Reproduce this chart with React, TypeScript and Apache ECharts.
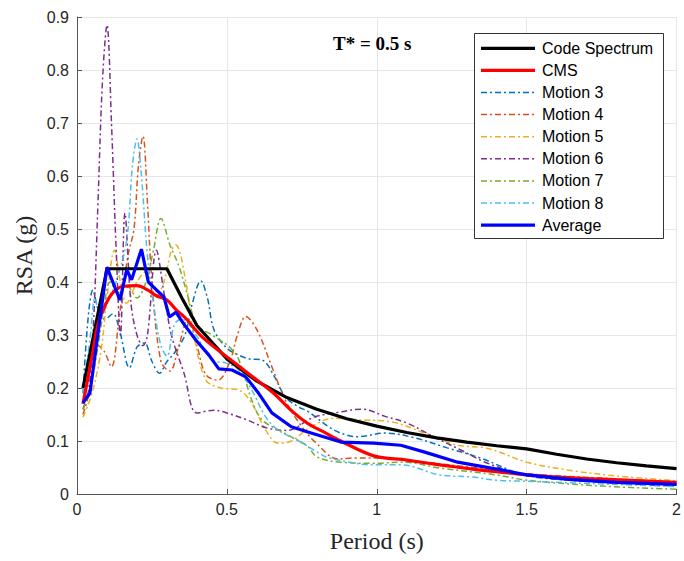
import React, { useEffect, useRef } from "react";
import * as echarts from "echarts";

type P = [number, number];

const seriesNames = ["Code Spectrum", "CMS", "Motion 3", "Motion 4", "Motion 5", "Motion 6", "Motion 7", "Motion 8", "Average"];
const xTicks = [0, 0.5, 1, 1.5, 2];
const yTicks = [0, 0.1, 0.2, 0.3, 0.4, 0.5, 0.6, 0.7, 0.8, 0.9];

const codeSpectrum: P[] = [[0.02,0.2],[0.1,0.425],[0.3,0.425],[0.35,0.37],[0.4,0.318],[0.5,0.255],[0.6,0.213],[0.7,0.182],[0.8,0.16],[0.9,0.142],[1.0,0.128],[1.1,0.116],[1.2,0.106],[1.3,0.098],[1.4,0.091],[1.5,0.085],[1.6,0.075],[1.7,0.066],[1.8,0.059],[1.9,0.053],[2.0,0.048]];
const cms: P[] = [[0.02,0.17],[0.05,0.26],[0.07,0.32],[0.093,0.355],[0.12,0.38],[0.155,0.392],[0.2,0.393],[0.235,0.385],[0.265,0.374],[0.3,0.366],[0.33,0.348],[0.36,0.333],[0.42,0.295],[0.52,0.25],[0.6,0.215],[0.656,0.19],[0.72,0.155],[0.77,0.133],[0.82,0.118],[0.88,0.1],[0.99,0.072],[1.1,0.064],[1.21,0.055],[1.32,0.047],[1.4,0.042],[1.5,0.036],[1.6,0.032],[1.75,0.028],[2.0,0.022]];
const motion3: P[] = [[0.02,0.19],[0.053,0.385],[0.075,0.34],[0.093,0.33],[0.12,0.34],[0.143,0.306],[0.175,0.238],[0.2,0.277],[0.225,0.285],[0.25,0.25],[0.275,0.228],[0.3,0.25],[0.325,0.266],[0.36,0.3],[0.385,0.36],[0.413,0.402],[0.435,0.37],[0.457,0.31],[0.5,0.275],[0.54,0.262],[0.573,0.255],[0.617,0.253],[0.66,0.22],[0.695,0.183],[0.74,0.164],[0.77,0.156],[0.86,0.12],[0.937,0.108],[1.026,0.115],[1.126,0.106],[1.235,0.087],[1.345,0.068],[1.5,0.035],[1.7,0.025],[2.0,0.018]];
const motion4: P[] = [[0.02,0.15],[0.045,0.2],[0.07,0.28],[0.09,0.27],[0.115,0.24],[0.14,0.33],[0.17,0.45],[0.19,0.5],[0.205,0.62],[0.22,0.675],[0.235,0.55],[0.25,0.4],[0.28,0.25],[0.31,0.232],[0.34,0.28],[0.37,0.33],[0.4,0.28],[0.43,0.225],[0.47,0.215],[0.51,0.25],[0.535,0.3],[0.563,0.335],[0.6,0.31],[0.65,0.24],[0.695,0.177],[0.75,0.127],[0.8,0.095],[0.87,0.066],[0.93,0.068],[1.0,0.068],[1.16,0.06],[1.32,0.05],[1.5,0.038],[1.75,0.03],[2.0,0.022]];
const motion5: P[] = [[0.02,0.145],[0.05,0.19],[0.08,0.27],[0.1,0.37],[0.125,0.46],[0.145,0.4],[0.165,0.36],[0.2,0.4],[0.23,0.42],[0.26,0.37],[0.29,0.4],[0.315,0.46],[0.33,0.47],[0.36,0.41],[0.39,0.3],[0.43,0.215],[0.48,0.2],[0.54,0.196],[0.583,0.171],[0.63,0.12],[0.67,0.096],[0.715,0.1],[0.78,0.127],[0.86,0.143],[0.94,0.14],[1.05,0.136],[1.16,0.115],[1.27,0.092],[1.35,0.088],[1.4,0.081],[1.5,0.06],[1.64,0.045],[1.8,0.034],[2.0,0.025]];
const motion6: P[] = [[0.02,0.16],[0.04,0.2],[0.055,0.32],[0.07,0.55],[0.085,0.78],[0.1,0.885],[0.115,0.7],[0.13,0.47],[0.145,0.3],[0.16,0.53],[0.18,0.36],[0.2,0.3],[0.22,0.28],[0.235,0.3],[0.265,0.46],[0.29,0.38],[0.315,0.3],[0.357,0.228],[0.4,0.153],[0.457,0.158],[0.5,0.153],[0.566,0.14],[0.632,0.125],[0.7,0.12],[0.79,0.145],[0.86,0.153],[0.95,0.16],[1.03,0.146],[1.1,0.134],[1.19,0.108],[1.28,0.083],[1.37,0.058],[1.5,0.035],[1.75,0.022],[2.0,0.015]];
const motion7: P[] = [[0.02,0.16],[0.045,0.2],[0.07,0.28],[0.09,0.35],[0.11,0.4],[0.14,0.38],[0.17,0.39],[0.2,0.37],[0.23,0.4],[0.255,0.46],[0.28,0.52],[0.31,0.47],[0.34,0.43],[0.364,0.385],[0.4,0.32],[0.45,0.3],[0.507,0.278],[0.54,0.253],[0.583,0.177],[0.617,0.14],[0.672,0.121],[0.74,0.1],[0.77,0.09],[0.8,0.07],[0.88,0.06],[0.99,0.058],[1.09,0.06],[1.21,0.049],[1.4,0.036],[1.5,0.026],[1.75,0.015],[2.0,0.009]];
const motion8: P[] = [[0.02,0.19],[0.045,0.3],[0.06,0.37],[0.08,0.33],[0.1,0.36],[0.13,0.4],[0.166,0.48],[0.185,0.62],[0.2,0.67],[0.215,0.6],[0.235,0.45],[0.26,0.34],[0.28,0.28],[0.3,0.26],[0.325,0.32],[0.35,0.33],[0.397,0.3],[0.45,0.253],[0.497,0.247],[0.54,0.234],[0.583,0.196],[0.63,0.145],[0.67,0.121],[0.74,0.1],[0.805,0.078],[0.84,0.068],[0.99,0.055],[1.08,0.055],[1.21,0.036],[1.32,0.032],[1.4,0.026],[1.5,0.024],[1.75,0.019],[2.0,0.014]];
const average: P[] = [[0.02,0.172],[0.043,0.19],[0.1,0.428],[0.143,0.366],[0.166,0.423],[0.182,0.404],[0.215,0.462],[0.238,0.4],[0.265,0.385],[0.29,0.372],[0.308,0.334],[0.33,0.343],[0.357,0.32],[0.397,0.29],[0.44,0.262],[0.473,0.236],[0.517,0.234],[0.563,0.221],[0.606,0.19],[0.65,0.153],[0.715,0.127],[0.77,0.117],[0.88,0.098],[0.99,0.096],[1.08,0.092],[1.16,0.079],[1.27,0.06],[1.4,0.047],[1.5,0.036],[1.65,0.027],[1.8,0.022],[2.0,0.018]];

const dataList = [codeSpectrum, cms, motion3, motion4, motion5, motion6, motion7, motion8, average];
const colors = ["#000000", "#FF0000", "#0072BD", "#D95319", "#EDB120", "#7E2F8E", "#77AC30", "#4DBEEE", "#0000FF"];

const sans = "Arial, 'Liberation Sans', Helvetica, sans-serif";
const serif = "'Times New Roman', 'Liberation Serif', serif";
const dashDot = [6, 3, 2, 3];

export default function App() {
  const ref = useRef<HTMLDivElement>(null);
  useEffect(() => {
    if (!ref.current) return;
    const chart = echarts.init(ref.current, null, { renderer: "svg" });
    const isThick = (i: number) => i === 0 || i === 1 || i === 8;
    const series = seriesNames.map((name, i) => ({
      name,
      type: "line",
      data: dataList[i],
      showSymbol: false,
      symbol: "none",
      smooth: i === 0 || i === 8 ? false : 0.35,
      z: isThick(i) ? 5 : 3,
      lineStyle: {
        color: colors[i],
        width: isThick(i) ? 3.2 : 1.5,
        type: isThick(i) ? "solid" : dashDot,
      },
      itemStyle: { color: colors[i] },
    }));

    // legend drawn as graphic elements
    const lx = 474.5, ly = 33.5, lw = 189, lh = 205;
    const legendEls: any[] = [
      {
        type: "rect",
        shape: { x: lx, y: ly, width: lw, height: lh },
        style: { fill: "#ffffff", stroke: "#333333", lineWidth: 1 },
        z: 100,
      },
    ];
    seriesNames.forEach((name, i) => {
      const cy = 48.3 + i * 22.1;
      legendEls.push({
        type: "line",
        shape: { x1: 481, y1: cy, x2: 535, y2: cy },
        style: {
          stroke: colors[i],
          lineWidth: isThick(i) ? 3.2 : 1.5,
          lineDash: isThick(i) ? null : dashDot,
        },
        z: 101,
      });
      legendEls.push({
        type: "text",
        x: 542,
        y: cy,
        style: {
          text: name,
          font: `16px ${sans}`,
          fill: "#000000",
          textVerticalAlign: "middle",
          verticalAlign: "middle",
        },
        z: 101,
      });
    });

    chart.setOption({
      animation: false,
      backgroundColor: "#ffffff",
      grid: { left: 77, right: 3, top: 17, bottom: 67, containLabel: false },
      xAxis: {
        type: "value",
        min: 0,
        max: 2,
        interval: 0.5,
        name: "Period (s)",
        nameLocation: "middle",
        nameGap: 35,
        nameTextStyle: { fontFamily: serif, fontSize: 24, color: "#262626" },
        axisLine: { show: true, lineStyle: { color: "#555555", width: 1 } },
        axisTick: { show: true, inside: true, length: 5, lineStyle: { color: "#555555" } },
        axisLabel: {
          fontFamily: sans,
          fontSize: 16,
          color: "#262626",
          margin: 7,
          formatter: (v: number) => String(xTicks.find((t) => Math.abs(t - v) < 1e-9) ?? v),
        },
        splitLine: { show: true, lineStyle: { color: "#e6e6e6", width: 1 } },
      },
      yAxis: {
        type: "value",
        min: 0,
        max: 0.9,
        interval: 0.1,
        name: "RSA (g)",
        nameLocation: "middle",
        nameGap: 36,
        nameTextStyle: { fontFamily: serif, fontSize: 24, color: "#262626" },
        axisLine: { show: true, lineStyle: { color: "#555555", width: 1 } },
        axisTick: { show: true, inside: true, length: 5, lineStyle: { color: "#555555" } },
        axisLabel: {
          fontFamily: sans,
          fontSize: 16,
          color: "#262626",
          margin: 8,
          formatter: (v: number) => {
            const t = yTicks.find((k) => Math.abs(k - v) < 1e-9);
            return t === 0 ? "0" : (t ?? v).toFixed(1);
          },
        },
        splitLine: { show: true, lineStyle: { color: "#e6e6e6", width: 1 } },
      },
      graphic: [
        {
          type: "text",
          x: 333,
          y: 43,
          style: {
            text: "T* = 0.5 s",
            font: `bold 19px ${serif}`,
            fill: "#000000",
            textVerticalAlign: "middle",
            verticalAlign: "middle",
          },
          z: 100,
        },
        ...legendEls,
      ],
      series,
    });
    return () => chart.dispose();
  }, []);
  return <div ref={ref} style={{ width: 684, height: 561, position: "absolute", left: 0, top: 0 }} />;
}
